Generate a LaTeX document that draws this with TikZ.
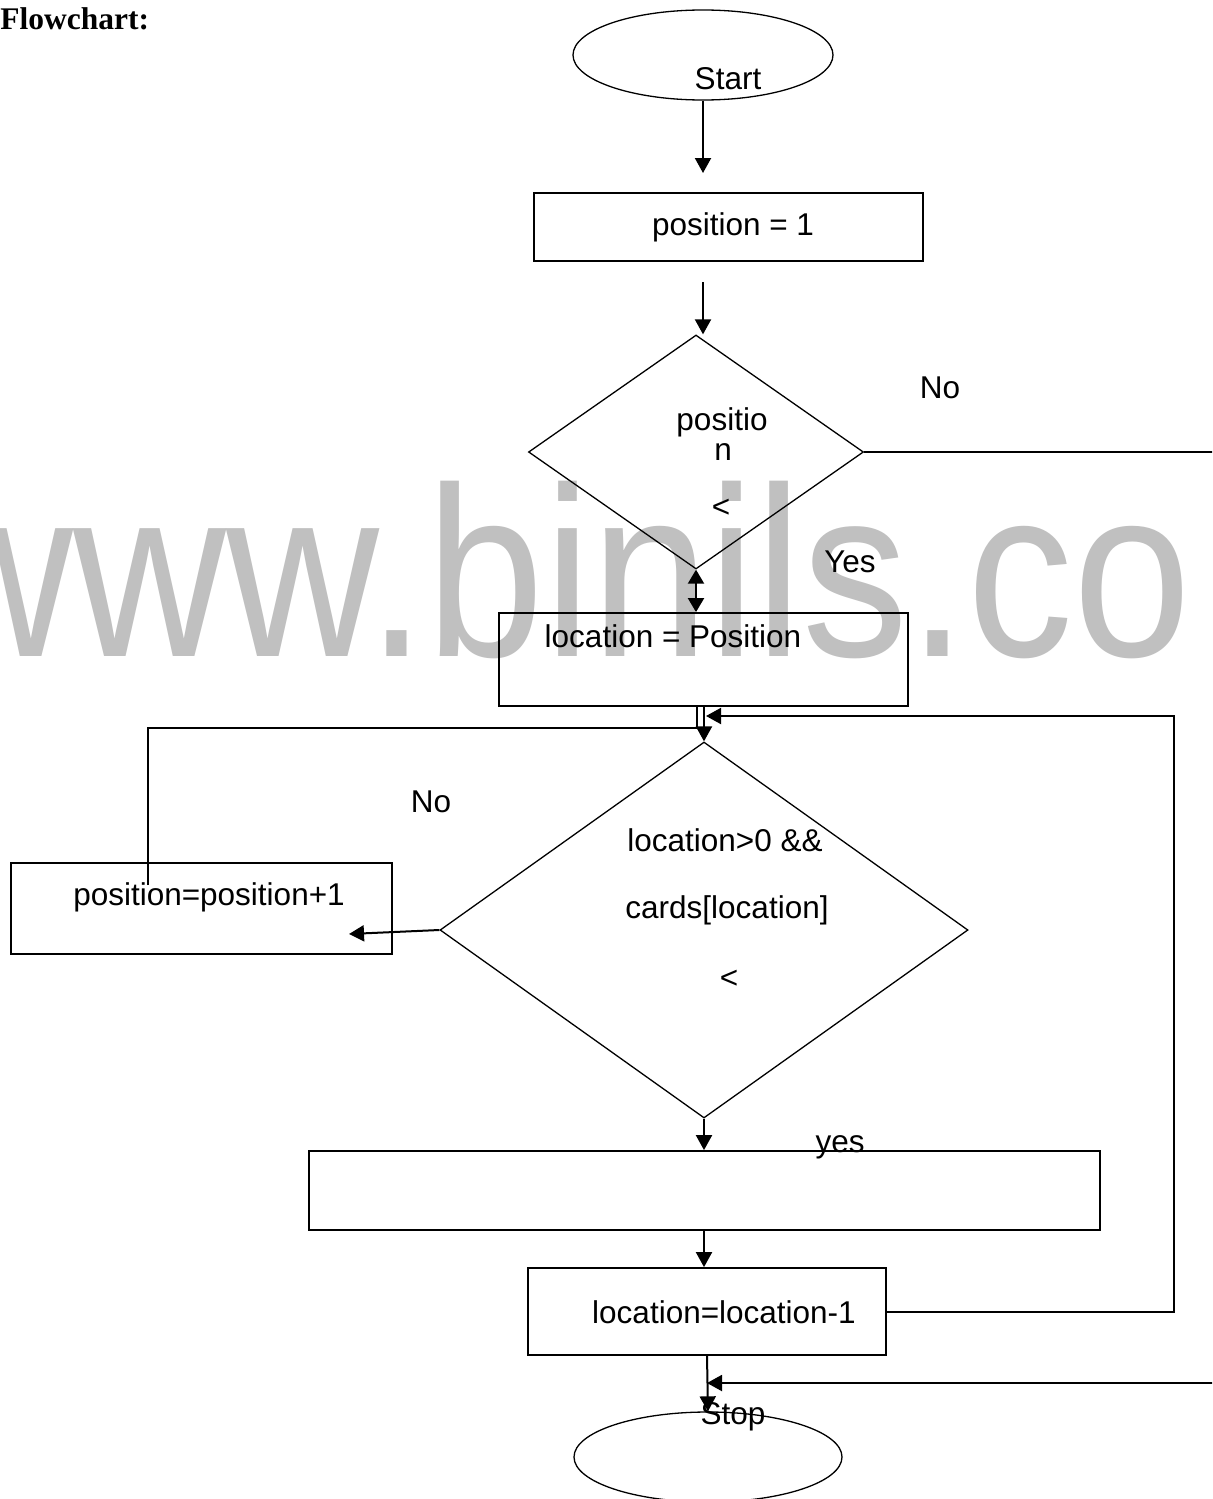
\documentclass[tikz,border=0pt]{standalone}
\usepackage{fontspec}
\setmainfont{Liberation Sans}
\newfontfamily\titlefont{Liberation Serif}
\usetikzlibrary{shapes.geometric,arrows.meta}
\definecolor{wm}{HTML}{C0C0C0}
\begin{document}
\begin{tikzpicture}[x=0.5pt,y=-0.5pt,
 box/.style={draw, line width=0.9pt, rectangle, inner sep=0pt},
 dec/.style={draw, line width=0.65pt, diamond, inner sep=0pt},
 term/.style={draw, line width=0.65pt, ellipse, inner sep=0pt},
 txt/.style={anchor=base, inner sep=0pt, font=\fontsize{15.75}{18}\selectfont},
 conn/.style={line width=1pt},
 arr/.style={conn, -{Triangle[length=7.5pt,width=8pt]}},
 dbl/.style={conn, {Triangle[length=7pt,width=8pt]}-{Triangle[length=7pt,width=8pt]}},
]
\useasboundingbox (0,0) rectangle (1212,1499);
\clip (0,0) rectangle (1212,1499);
\fill[white] (0,0) rectangle (1212,1499);
\node[anchor=base west, inner sep=0pt, text=wm, font=\fontsize{121}{121}\selectfont] (wmark) at (-80,656) {\scalebox{0.875}[1]{www.binils.co}};

% shapes
\node[term, minimum width=130pt, minimum height=45pt] (start) at (703,55) {};
\node[box, minimum width=194.5pt, minimum height=34pt] (b1) at (728.5,227) {};
\node[dec, minimum width=167.5pt, minimum height=117pt] (d1) at (696,452) {};
\node[box, minimum width=204.5pt, minimum height=46.5pt] (b2) at (703.5,659.5) {};
\node[dec, minimum width=264pt, minimum height=188pt] (d2) at (704,930) {};
\node[box, minimum width=190.5pt, minimum height=45.5pt] (b3) at (201.5,908.5) {};
\node[box, minimum width=395.5pt, minimum height=39.5pt] (b4) at (704.5,1190.5) {};
\node[box, minimum width=179pt, minimum height=43.5pt] (b5) at (707,1311.5) {};
\node[term, minimum width=134pt, minimum height=45pt] (stop) at (708,1457) {};

% texts
\node[anchor=base west, inner sep=0pt, font=\titlefont\bfseries\fontsize{15.75}{18}\selectfont] (title) at (0,29) {Flowchart:};
\node[txt] (tstart) at (728,89) {Start};
\node[txt] (tb1) at (733,235) {position = 1};
\node[txt] (td1a) at (722,430) {positio};
\node[txt] (td1b) at (723,460) {n};
\node[txt] (td1c) at (721,517) {<};
\node[txt] (tno1) at (940,398) {No};
\node[txt] (tyes1) at (850,572) {Yes};
\node[txt] (tb2) at (673,647) {location = Position};
\node[txt] (tno2) at (431,812) {No};
\node[txt] (tb3) at (209,905) {position=position+1};
\node[txt] (td2a) at (725,851) {location>0 \&\&};
\node[txt] (td2b) at (727,918) {cards[location]};
\node[txt] (td2c) at (729,988) {<};
\node[txt] (tyes2) at (840,1152) {yes};
\node[txt] (tb5) at (724,1323) {location=location-1};

% connectors
\coordinate (a1e) at (703,173);
\draw[arr] (start.south) -- (a1e);
\coordinate (a2s) at (703,282);
\draw[arr] (a2s) -- (a2s |- d1.north);
\draw[dbl] (d1.south) -- (d1.south |- b2.north);
\coordinate (noR) at (1216,452);
\draw[conn] (d1.east) -- (noR);
\coordinate (lp) at (148,885);
\coordinate (lj) at (697,728);
\draw[conn] (lp) |- (lj) -- (lj |- b2.south);
\draw[arr] (d2.north |- b2.south) -- (d2.north);
\coordinate (rl) at (1174,716);
\coordinate (rle) at (706,716);
\draw[arr] (b5.east) -| (rl) -- (rle);
\coordinate (l3e) at (349,934);
\draw[arr] (d2.west) -- (l3e);
\draw[arr] (d2.south) -- (d2.south |- b4.north);
\draw[arr] (b4.south -| d2.south) -- (b5.north -| d2.south);
\draw[arr] (b5.south) -- (stop.north);
\coordinate (bR) at (1216,1383);
\coordinate (bRe) at (707,1383);
\draw[arr] (bR) -- (bRe);
\node[txt] (tstop) at (733,1424) {Stop};
\end{tikzpicture}
\end{document}
